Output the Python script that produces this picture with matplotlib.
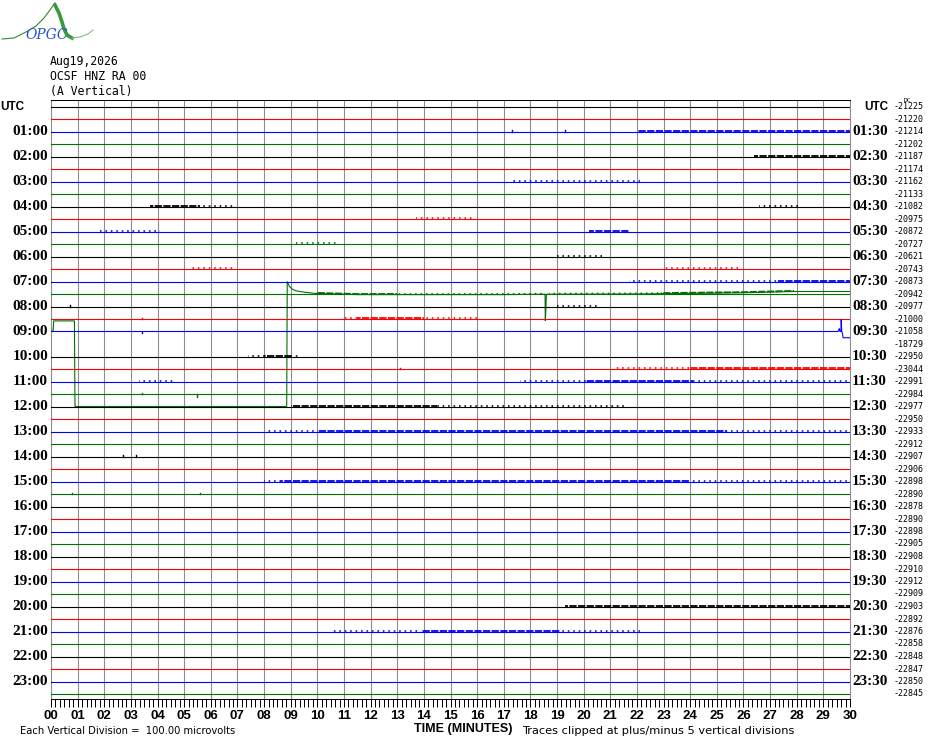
import numpy as np
import matplotlib.pyplot as plt
from matplotlib.patches import Rectangle
from matplotlib.transforms import blended_transform_factory

W, H, DPI = 930, 744, 100

header = ["Aug19,2026", "OCSF HNZ RA 00", "(A Vertical)"]
trace_colors = ["black", "red", "blue", "#007000"]
n_traces = 48
minutes = np.arange(0, 31)

# DC level printed right of each line
dc_values = [-21225, -21220, -21214, -21202, -21187, -21174, -21162, -21133,
             -21082, -20975, -20872, -20727, -20621, -20743, -20873, -20942,
             -20977, -21000, -21058, -18729, -22950, -23044, -22991, -22984,
             -22977, -22950, -22933, -22912, -22907, -22906, -22898, -22890,
             -22878, -22890, -22898, -22905, -22908, -22910, -22912, -22909,
             -22903, -22892, -22876, -22858, -22848, -22847, -22850, -22845]

# lines that leave their baseline (minute, vertical divisions)
trace18_t = [0.0, 29.55, 29.60, 29.62, 29.66, 29.67, 29.69, 29.72, 29.74, 30.0]
trace18_v = [0.0, 0.0, 0.25, 0.0, 0.0, 0.95, 0.0, -0.2, -0.5, -0.5]
trace19_t = [0.0, 0.03, 0.08, 0.10, 0.88, 0.90, 8.85, 8.87, 8.95, 9.05, 9.2,
             9.5, 9.9, 10.6, 11.5, 17.0, 18.55, 18.56, 18.58, 18.60, 22.0,
             26.0, 27.9, 30.0]
trace19_v = [1.85, 1.0, 1.0, 1.85, 1.85, -6.0, -6.0, 6.0, 4.6, 4.4, 4.25,
             4.15, 4.05, 4.0, 3.95, 3.95, 3.98, 1.85, 2.7, 3.98, 4.0,
             4.1, 4.2, 4.2]
special = {18: (trace18_t, trace18_v), 19: (trace19_t, trace19_v)}

# noisy stretches: trace, start minute, end minute, 1 = sparse, 2 = dense
noise = [(2, 22.0, 30.0, 2), (4, 26.4, 30.0, 2), (6, 17.3, 22.1, 1),
         (8, 3.7, 5.6, 2), (8, 5.6, 6.9, 1), (8, 26.6, 28.1, 1),
         (9, 13.7, 15.9, 1), (10, 1.8, 4.1, 1), (10, 20.2, 21.7, 2),
         (11, 9.2, 10.7, 1), (12, 19.0, 20.7, 1), (13, 5.2, 6.9, 1),
         (13, 23.0, 25.8, 1), (14, 21.7, 27.3, 1), (14, 27.3, 30.0, 2),
         (16, 19.0, 20.6, 1), (17, 10.9, 11.5, 1), (17, 11.5, 14.0, 2),
         (17, 14.0, 16.0, 1), (19, 10.0, 13.0, 2), (19, 13.0, 18.5, 1),
         (19, 18.7, 22.9, 1), (19, 22.9, 27.9, 2), (20, 7.4, 8.0, 1),
         (20, 8.0, 9.0, 2), (20, 9.0, 9.4, 1), (21, 21.1, 24.0, 1),
         (21, 24.0, 30.0, 2), (22, 3.3, 4.6, 1), (22, 17.6, 20.1, 1),
         (22, 20.1, 24.1, 2), (22, 24.1, 30.0, 1), (24, 9.0, 14.5, 2),
         (24, 14.5, 21.6, 1), (26, 8.1, 10.0, 1), (26, 10.0, 25.4, 2),
         (26, 25.4, 30.0, 1), (30, 8.0, 8.6, 1), (30, 8.6, 24.0, 2),
         (30, 24.0, 29.9, 1), (40, 19.3, 30.0, 2), (42, 10.5, 13.9, 1),
         (42, 13.9, 19.1, 2), (42, 19.1, 22.1, 1)]

# isolated spikes: trace, minute, divisions
spikes = [(16, 0.7, 0.12), (17, 3.4, 0.12), (18, 3.4, -0.1), (23, 5.5, -0.2),
          (23, 3.4, 0.1), (28, 2.7, 0.1), (28, 3.2, 0.1), (21, 13.1, 0.1),
          (31, 0.8, 0.1), (31, 5.6, 0.1), (2, 17.3, 0.1), (2, 19.3, 0.1)]

fig = plt.figure(figsize=(W / DPI, H / DPI), dpi=DPI)
ax = fig.add_axes([51 / W, (H - 699) / H, 799 / W, 599 / H])
ax.set_xlim(0, 30)
ax.set_ylim(-47.4, 0.52)

px = 72.0 / DPI  # one pixel in points

# minute grid
for m in minutes[1:-1]:
    ax.axvline(m, color="#8c8c8c", lw=1.1 * px, zorder=1)
for side in ["left", "right"]:
    ax.spines[side].set_color("#8c8c8c")
    ax.spines[side].set_linewidth(1.1 * px)
for side in ["top", "bottom"]:
    ax.spines[side].set_linewidth(1.0 * px)

# traces
for i in range(n_traces):
    c = trace_colors[i % 4]
    t, v = special.get(i, ([0.0, 30.0], [0.0, 0.0]))
    v = np.clip(v, -5, 5)
    z = 2 if i == 19 else 3
    ax.plot(t, -i + v, color=c, lw=1.1 * px, zorder=z, solid_joinstyle="miter")

for tr, t0, t1, lev in noise:
    c = trace_colors[tr % 4]
    t, v = special.get(tr, ([0.0, 30.0], [0.0, 0.0]))
    v = np.clip(v, -5, 5)
    y = -tr + np.array(v) + 0.05
    if lev == 2:
        ln, = ax.plot(t, y, color=c, lw=1.8 * px, zorder=3,
                      linestyle=(0, (4, 0.8)))
    else:
        ln, = ax.plot(t, y, color=c, lw=1.6 * px, zorder=3,
                      linestyle=(0, (1.0, 2.4)))
    ln.set_clip_path(Rectangle((t0, -60), t1 - t0, 70, transform=ax.transData))

for tr, m, a in spikes:
    ax.plot([m, m], [-tr, -tr + a], color=trace_colors[tr % 4], lw=1.4 * px, zorder=3)

# time axis
ax.set_yticks([])
ax.set_xticks(minutes)
ax.set_xticks(np.arange(0, 30.01, 1 / 6), minor=True)
ax.set_xticklabels(["%02d" % m for m in minutes], fontfamily="Liberation Sans",
                   fontweight="bold", fontsize=9.5)
ax.tick_params(axis="x", which="both", direction="out", length=8 * px,
               width=1.0 * px, color="black", pad=3 * px)

# hour labels
tr_l = blended_transform_factory(fig.transFigure, ax.transData)
lab_font = dict(fontfamily="Liberation Serif", fontweight="bold", fontsize=11)
for i in range(2, n_traces, 2):
    h = i // 2
    ax.text(48 / W, -i, "%02d:00" % h, transform=tr_l, ha="right", va="center", **lab_font)
    ax.text(852 / W, -i, "%02d:30" % h, transform=tr_l, ha="left", va="center", **lab_font)
utc_font = dict(fontfamily="Liberation Sans", fontweight="bold", fontsize=8.5)
ax.text(0 / W, 0, "UTC", transform=tr_l, ha="left", va="center", **utc_font)
ax.text(864 / W, 0, "UTC", transform=tr_l, ha="left", va="center", **utc_font)
for i, d in enumerate(dc_values):
    ax.text(894 / W, -i, str(d), transform=tr_l, ha="left", va="center",
            fontfamily="DejaVu Sans Mono", fontsize=6)
fig.text(904 / W, 1 - 101 / H, "DC", fontfamily="DejaVu Sans Mono", fontsize=4.5,
         ha="left", va="center")

# header
for k, s in enumerate(header):
    fig.text(50 / W, 1 - (61 + 15 * k) / H, s, fontfamily="DejaVu Sans Mono",
             fontsize=8.3, ha="left", va="center")

# footer
fig.text(20 / W, 1 - 731 / H, "Each Vertical Division =  100.00 microvolts",
         fontfamily="DejaVu Sans", fontsize=7.2, ha="left", va="center")
fig.text(463 / W, 1 - 729 / H, "TIME (MINUTES)", fontfamily="Liberation Sans",
         fontweight="bold", fontsize=9, ha="center", va="center")
fig.text(522 / W, 1 - 731 / H, "Traces clipped at plus/minus 5 vertical divisions",
         fontfamily="DejaVu Sans", fontsize=8.2, ha="left", va="center")

# logo
lg = fig.add_axes([0, 1 - 45 / H, 100 / W, 45 / H])
lg.set_xlim(0, 100)
lg.set_ylim(45, 0)
lg.axis("off")
lg.plot([2, 14, 26, 36, 44, 50, 55], [39, 38, 32, 26, 18, 10, 3], color="#2e8b2e", lw=0.8)
lg.plot([55, 59, 62, 64, 67, 72], [5, 13, 22, 29, 35, 38], color="#3a9a3a", lw=2.6)
lg.plot([72, 80, 88, 93], [38, 37, 34, 30], color="#7cc07c", lw=0.8)
lg.text(47, 35, "OPGC", color="#2850d0", fontsize=10, fontstyle="italic",
        fontfamily="DejaVu Serif", ha="center", va="center")

fig.savefig("out.png", dpi=DPI)
